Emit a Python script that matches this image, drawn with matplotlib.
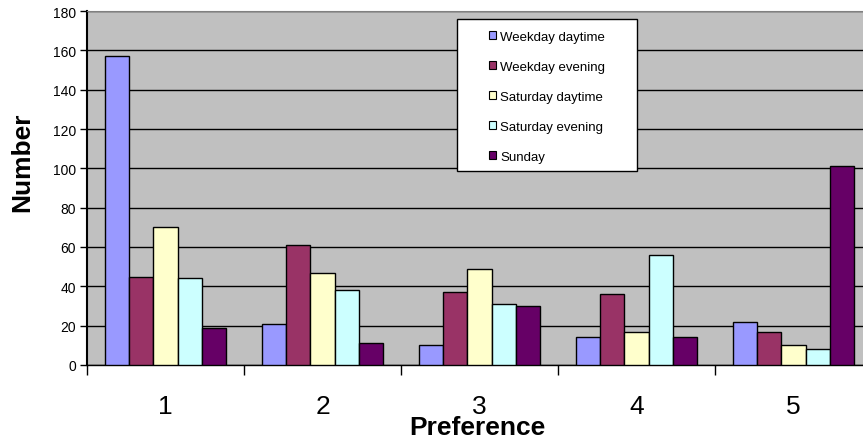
import numpy as np
import matplotlib
matplotlib.use("Agg")
import matplotlib.pyplot as plt
from matplotlib.patches import Rectangle

# Data
categories = ["1", "2", "3", "4", "5"]
series_names = ["Weekday daytime", "Weekday evening", "Saturday daytime",
                "Saturday evening", "Sunday"]
weekday_daytime = [157, 21, 10, 14, 22]
weekday_evening = [45, 61, 37, 36, 17]
saturday_daytime = [70, 47, 49, 17, 10]
saturday_evening = [44, 38, 31, 56, 8]
sunday = [19, 11, 30, 14, 101]
colors = ["#9999FF", "#993366", "#FFFFCC", "#CCFFFF", "#660066"]

series = [weekday_daytime, weekday_evening, saturday_daytime,
          saturday_evening, sunday]

plt.rcParams['font.family'] = ['Liberation Sans', 'DejaVu Sans']

fig = plt.figure(figsize=(8.63, 4.39), dpi=100)
# plot area runs past the right edge of the image, like the original
ax = fig.add_axes([87 / 863, 73 / 439, 785 / 863, 354 / 439])
ax.set_facecolor("#C0C0C0")

x = np.arange(len(categories))
width = 1 / 6.5
for i, (vals, name, col) in enumerate(zip(series, series_names, colors)):
    ax.bar(x + (i - 2) * width, vals, width, color=col, edgecolor="black",
           linewidth=1.0, label=name, zorder=3)

ax.set_xlim(-0.5, 4.5)
ax.set_ylim(0, 180)
ax.set_yticks(range(0, 181, 20))
ax.yaxis.grid(True, color="black", linewidth=1.0, zorder=1)
ax.tick_params(axis="y", labelsize=10, length=5, width=1, direction="out", pad=3)

# category boundaries get tick marks, labels sit at the centres
ax.set_xticks(np.arange(-0.5, 5.0, 1.0))
ax.set_xticklabels([])
ax.tick_params(axis="x", which="major", length=7, width=1, direction="out")
ax.set_xticks(x, minor=True)
ax.set_xticklabels(categories, minor=True)
ax.tick_params(axis="x", which="minor", length=0, labelsize=19, pad=21)

ax.spines["top"].set_color("#808080")
ax.spines["right"].set_visible(False)
ax.spines["left"].set_linewidth(1.5)
ax.spines["bottom"].set_linewidth(1.0)
ax.set_axisbelow(True)

xl = ax.set_xlabel("Preference", fontsize=19, fontweight="bold")
xl.set_va("center")
ax.xaxis.set_label_coords(0.497, -0.175)
yl = ax.set_ylabel("Number", fontsize=19, fontweight="bold")
yl.set_va("center")
ax.yaxis.set_label_coords(-0.083, 0.576)

# legend box is wider than its content, so draw the frame separately
frame = Rectangle((0.471, 0.548), 0.2295, 0.429, transform=ax.transAxes,
                  facecolor="white", edgecolor="black", linewidth=1.0,
                  zorder=4)
ax.add_patch(frame)
leg = ax.legend(loc="upper left", bbox_to_anchor=(0.5115, 0.944), fontsize=9.5,
                frameon=False, labelspacing=1.37, handlelength=0.55,
                handleheight=0.55, handletextpad=0.35, borderpad=0,
                borderaxespad=0)
leg.set_zorder(5)
for h in leg.legend_handles:
    h.set_linewidth(0.8)

fig.savefig("out.png", dpi=100)
